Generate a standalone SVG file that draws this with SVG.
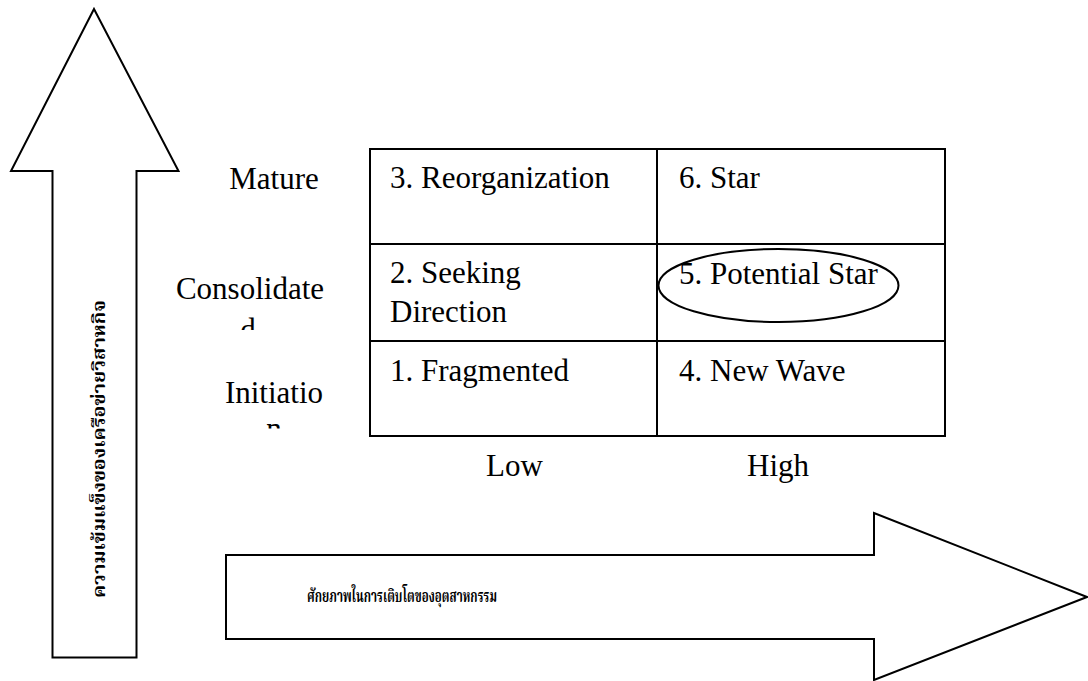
<svg xmlns="http://www.w3.org/2000/svg" width="1088" height="681" viewBox="0 0 1088 681">
<style>
.shape{fill:#fff;stroke:#000;stroke-width:2;stroke-linejoin:miter}
.cell{fill:none;stroke:#000;stroke-width:2}
.t{font-family:"Liberation Serif","Times New Roman",serif;font-size:31px;fill:#000}
.th{font-family:"Noto Serif Thai","Noto Sans Thai Looped","Noto Sans Thai","Loma","Garuda","DejaVu Sans",sans-serif;font-weight:bold;fill:#000}
</style>
<defs>
<clipPath id="clipCons"><rect x="160" y="260" width="200" height="70"/></clipPath>
<clipPath id="clipInit"><rect x="160" y="370" width="200" height="58.5"/></clipPath>
</defs>
<rect width="1088" height="681" fill="#fff"/>

<g id="vertical-arrow">
<polygon class="shape" points="94,9 178.5,171 136.5,171 136.5,657.5 52.5,657.5 52.5,171 11,171"/>
<text class="th" font-size="18" transform="translate(105,598) rotate(-90)" textLength="298" lengthAdjust="spacingAndGlyphs">ความเข้มแข็งของเครือข่ายวิสาหกิจ</text>
</g>

<g id="horizontal-arrow">
<polygon class="shape" points="226,555 874,555 874,513 1087,597 874,680 874,639 226,639"/>
<text class="th" font-size="18" x="307" y="602" textLength="190" lengthAdjust="spacingAndGlyphs">ศักยภาพในการเติบโตของอุตสาหกรรม</text>
</g>

<g id="label-mature"><text class="t" x="274" y="189" text-anchor="middle">Mature</text></g>
<g id="label-consolidated" clip-path="url(#clipCons)">
<text class="t" x="250" y="299" text-anchor="middle">Consolidate</text>
<text class="t" x="248" y="340" text-anchor="middle">d</text>
</g>
<g id="label-initiation" clip-path="url(#clipInit)">
<text class="t" x="274" y="403" text-anchor="middle">Initiatio</text>
<text class="t" x="274" y="439" text-anchor="middle">n</text>
</g>

<g id="cell-3"><rect class="cell" x="370" y="149" width="287" height="95"/><text class="t" x="390" y="188">3. Reorganization</text></g>
<g id="cell-6"><rect class="cell" x="657" y="149" width="288" height="95"/><text class="t" x="679" y="188">6. Star</text></g>
<g id="cell-2"><rect class="cell" x="370" y="244" width="287" height="97"/><text class="t" x="390" y="283">2. Seeking</text><text class="t" x="390" y="322">Direction</text></g>
<g id="cell-5"><rect class="cell" x="657" y="244" width="288" height="97"/><text class="t" x="679" y="284">5. Potential Star</text><ellipse cx="778.5" cy="285.5" rx="120" ry="36.5" fill="none" stroke="#000" stroke-width="2"/></g>
<g id="cell-1"><rect class="cell" x="370" y="341" width="287" height="95"/><text class="t" x="390" y="381">1. Fragmented</text></g>
<g id="cell-4"><rect class="cell" x="657" y="341" width="288" height="95"/><text class="t" x="679" y="381">4. New Wave</text></g>

<g id="label-low"><text class="t" x="486" y="476">Low</text></g>
<g id="label-high"><text class="t" x="747" y="476">High</text></g>
</svg>
